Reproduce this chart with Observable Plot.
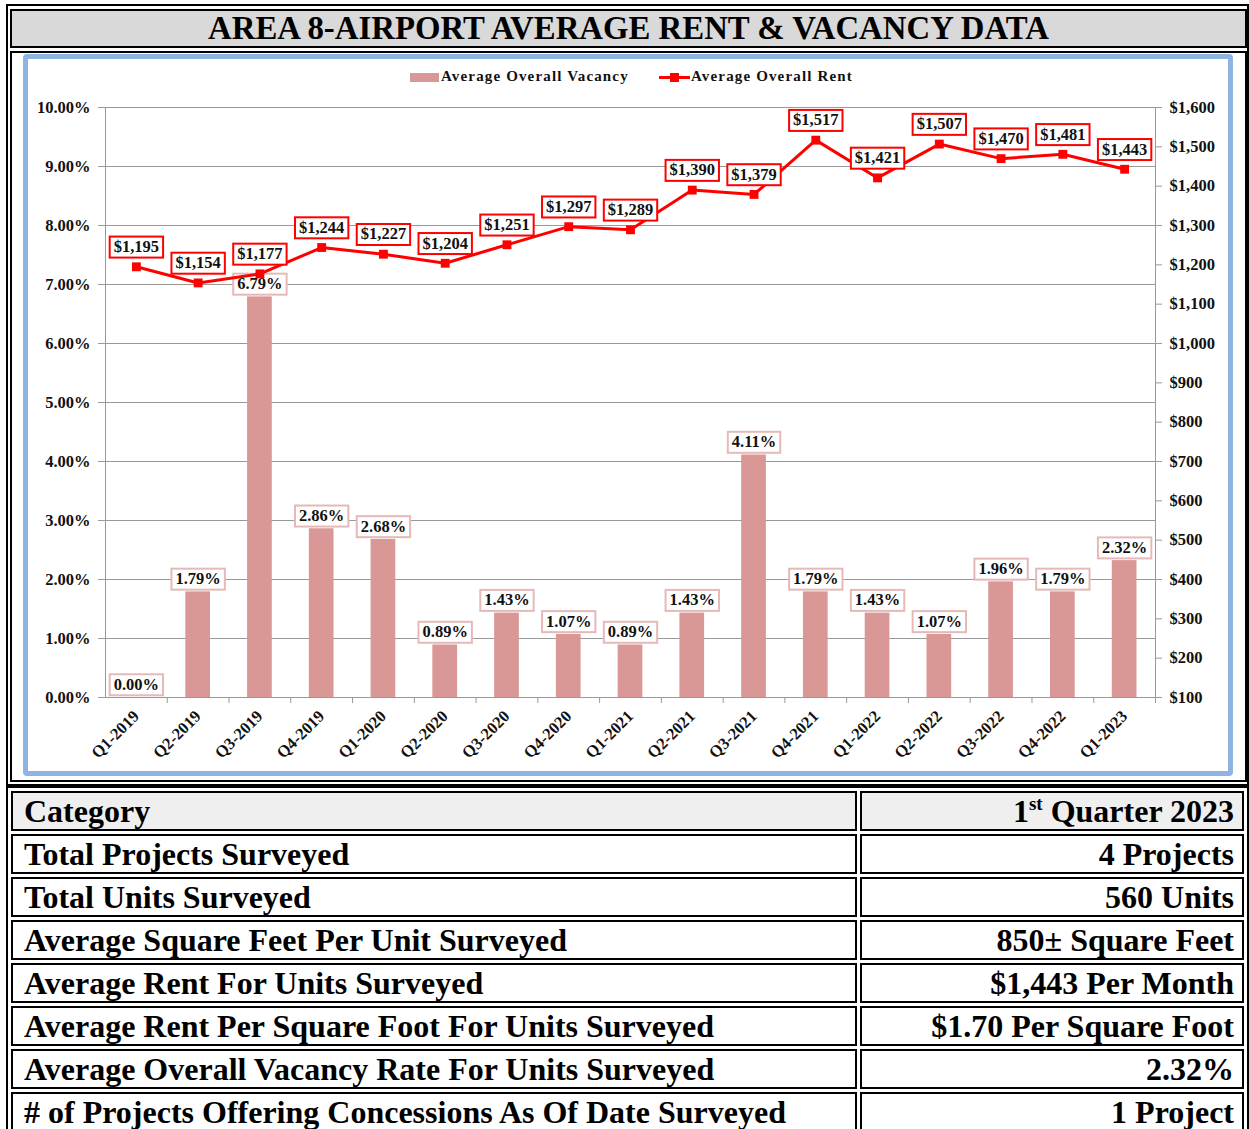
<!DOCTYPE html>
<html><head><meta charset="utf-8">
<script src="https://cdn.jsdelivr.net/npm/d3@7"></script>
<script src="https://cdn.jsdelivr.net/npm/@observablehq/plot@0.6"></script>
<style>
body{margin:0;background:#fff;font-family:"Liberation Serif","Times New Roman",serif;}
#page{position:relative;width:1249px;height:1129px;overflow:hidden;}
.box{position:absolute;box-sizing:border-box;border:2px solid #000;}
#title{left:10px;top:9px;width:1237px;height:39px;background:#d9d9d9;display:flex;align-items:center;justify-content:center;font-weight:bold;font-size:32.8px;color:#000;}
#outer{left:6px;top:4px;width:1243px;height:782px;}
#chartbox{left:10px;top:51px;width:1237px;height:731px;}
#blue{position:absolute;left:23px;top:54px;width:1210px;height:722px;box-sizing:border-box;border:5px solid #8db4e2;border-radius:4px;}
#chart{position:absolute;left:28px;top:59px;}
#legend{position:absolute;left:0;top:66px;width:1249px;height:22px;font-weight:bold;font-size:15px;letter-spacing:1.15px;color:#111;}
#legend .sw{position:absolute;left:410px;top:7px;width:29px;height:9px;background:#d99795;}
#legend .t1{position:absolute;left:441px;top:2px;}
#legend .ln{position:absolute;left:659px;top:10px;width:31px;height:3px;background:#ff0000;}
#legend .sq{position:absolute;left:670px;top:7px;width:9px;height:9px;background:#ff0000;}
#legend .t2{position:absolute;left:691px;top:2px;}
#tbl{position:absolute;left:6px;top:786px;border:2px solid #000;border-spacing:3px;border-collapse:separate;}
#tbl td{border:2px solid #000;height:36px;padding:0;font-weight:bold;font-size:32px;line-height:36px;vertical-align:middle;white-space:nowrap;color:#000;}
#tbl td.l{width:832px;padding-left:11px;}
#tbl td.r{width:374px;padding-right:8px;text-align:right;}
#tbl tr.h td{background:#efefef;}
sup{font-size:19px;line-height:0;vertical-align:super;}
</style></head>
<body>
<div id="page">
  <div id="outer" class="box"></div>
  <div id="title" class="box">AREA 8-AIRPORT AVERAGE RENT &amp; VACANCY DATA</div>
  <div id="chartbox" class="box"></div>
  <div id="blue"></div>
  <div id="chart"></div>
  <div id="legend"><div class="sw"></div><div class="t1">Average Overall Vacancy</div><div class="ln"></div><div class="sq"></div><div class="t2">Average Overall Rent</div></div>
  <table id="tbl"><tbody id="tb"></tbody></table>
</div>
<script>
const quarters = ["Q1-2019","Q2-2019","Q3-2019","Q4-2019","Q1-2020","Q2-2020","Q3-2020","Q4-2020","Q1-2021","Q2-2021","Q3-2021","Q4-2021","Q1-2022","Q2-2022","Q3-2022","Q4-2022","Q1-2023"];
const vacancy = [0.00,1.79,6.79,2.86,2.68,0.89,1.43,1.07,0.89,1.43,4.11,1.79,1.43,1.07,1.96,1.79,2.32];
const rent = [1195,1154,1177,1244,1227,1204,1251,1297,1289,1390,1379,1517,1421,1507,1470,1481,1443];
const vacTicks = [0,1,2,3,4,5,6,7,8,9,10];
const rentTicks = [100,200,300,400,500,600,700,800,900,1000,1100,1200,1300,1400,1500,1600];
const tableCategories = ["Category","Total Projects Surveyed","Total Units Surveyed","Average Square Feet Per Unit Surveyed","Average Rent For Units Surveyed","Average Rent Per Square Foot For Units Surveyed","Average Overall Vacancy Rate For Units Surveyed","# of Projects Offering Concessions As Of Date Surveyed"];
const tableValues = ["1<sup>st</sup> Quarter 2023","4 Projects","560 Units","850± Square Feet","$1,443 Per Month","$1.70 Per Square Foot","2.32%","1 Project"];

const rentMin = rentTicks[0], rentMax = rentTicks[rentTicks.length-1], vacMax = vacTicks[vacTicks.length-1];
const rentToY = r => (r - rentMin) / (rentMax - rentMin) * vacMax;
const yToRent = y => Math.round(y / vacMax * (rentMax - rentMin) + rentMin);
const data = quarters.map((q,i)=>({q, vac: vacancy[i], rent: rent[i], rentY: rentToY(rent[i])}));

const W=1200, H=712, mL=77, mR=73, mT=48, mB=74;
const step = (W-mL-mR)/quarters.length;
const money = d3.format("$,");
const gray = "#999";
const fs = 16.5;

const chart = Plot.plot({
  width:W, height:H, marginLeft:mL, marginRight:mR, marginTop:mT, marginBottom:mB,
  style:{fontFamily:'"Liberation Serif", serif', fontWeight:"bold", fontSize:fs+"px", color:"#111", background:"transparent", overflow:"visible"},
  x:{domain:quarters, paddingInner:0.6, paddingOuter:0.3, round:false, label:null},
  y:{domain:[0,vacMax], label:null},
  marks:[
    Plot.gridY(vacTicks, {stroke:gray, strokeOpacity:1}),
    Plot.frame({stroke:gray}),
    Plot.barY(data, {x:"q", y:"vac", fill:"#d99795"}),
    Plot.axisY({ticks:vacTicks, tickFormat:d=>d.toFixed(2)+"%", tickSize:7, tickPadding:8, stroke:gray, label:null, fontSize:fs}),
    Plot.axisY({anchor:"right", ticks:rentTicks.map(rentToY), tickFormat:d=>money(yToRent(d)), tickSize:6, tickPadding:8, stroke:gray, label:null, fontSize:fs}),
    Plot.axisX({tickSize:0, tickRotate:-45, tickPadding:16, label:null, fontSize:fs}),
    Plot.axisX({tickSize:6, tickFormat:()=>"", dx:step/2, stroke:gray, label:null}),
    Plot.text(data, {x:"q", y:"vac", text:d=>d.vac.toFixed(2)+"%", dy:-13, fontSize:fs, fill:"#111", ariaLabel:()=>"vlab"}),
    Plot.line(data, {x:"q", y:"rentY", stroke:"#ff0000", strokeWidth:3}),
    Plot.dot(data, {x:"q", y:"rentY", symbol:"square", fill:"#ff0000", r:5}),
    Plot.text(data, {x:"q", y:"rentY", text:d=>money(d.rent), dy:-20, fontSize:fs, fill:"#111", ariaLabel:()=>"rlab"})
  ]
});
document.getElementById("chart").appendChild(chart);

function boxLabels(label, stroke){
  chart.querySelectorAll(`text[aria-label="${label}"]`).forEach(t=>{
    const b = t.getBBox();
    const r = document.createElementNS("http://www.w3.org/2000/svg","rect");
    r.setAttribute("x", b.x-4); r.setAttribute("y", b.y-0.5);
    r.setAttribute("width", b.width+8); r.setAttribute("height", b.height+2);
    r.setAttribute("fill", "#fff"); r.setAttribute("stroke", stroke); r.setAttribute("stroke-width", 2);
    const tr = t.getAttribute("transform"); if (tr) r.setAttribute("transform", tr);
    t.parentNode.insertBefore(r, t);
  });
}
boxLabels("vlab", "#e6b9b8");
boxLabels("rlab", "#ff0000");

const tb = document.getElementById("tb");
tableCategories.forEach((c,i)=>{
  const tr = document.createElement("tr");
  if (i===0) tr.className = "h";
  const a = document.createElement("td"); a.className="l"; a.textContent = c;
  const b = document.createElement("td"); b.className="r"; b.innerHTML = tableValues[i];
  tr.appendChild(a); tr.appendChild(b); tb.appendChild(tr);
});
</script>
</body></html>
